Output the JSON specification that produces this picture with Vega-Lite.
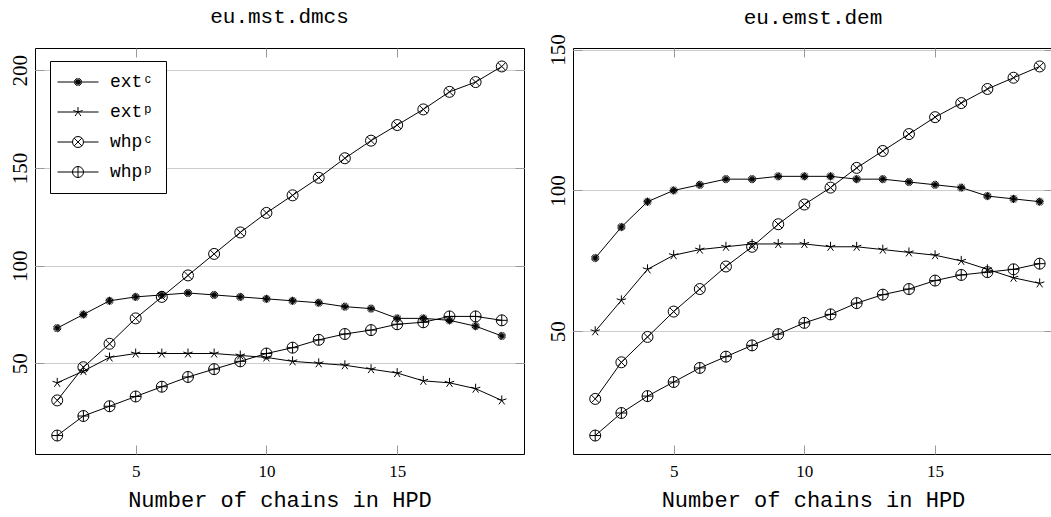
{
  "$schema": "https://vega.github.io/schema/vega-lite/v6.json",
  "padding": {"left": 8, "top": 5, "right": 0, "bottom": 0},
  "spacing": 21,
  "datasets": {
    "left": [
      {"n":2,"s":"extᶜ","v":68},{"n":3,"s":"extᶜ","v":75},{"n":4,"s":"extᶜ","v":82},{"n":5,"s":"extᶜ","v":84},{"n":6,"s":"extᶜ","v":85},{"n":7,"s":"extᶜ","v":86},{"n":8,"s":"extᶜ","v":85},{"n":9,"s":"extᶜ","v":84},{"n":10,"s":"extᶜ","v":83},{"n":11,"s":"extᶜ","v":82},{"n":12,"s":"extᶜ","v":81},{"n":13,"s":"extᶜ","v":79},{"n":14,"s":"extᶜ","v":78},{"n":15,"s":"extᶜ","v":73},{"n":16,"s":"extᶜ","v":73},{"n":17,"s":"extᶜ","v":72},{"n":18,"s":"extᶜ","v":69},{"n":19,"s":"extᶜ","v":64},
      {"n":2,"s":"extᵖ","v":40},{"n":3,"s":"extᵖ","v":46},{"n":4,"s":"extᵖ","v":53},{"n":5,"s":"extᵖ","v":55},{"n":6,"s":"extᵖ","v":55},{"n":7,"s":"extᵖ","v":55},{"n":8,"s":"extᵖ","v":55},{"n":9,"s":"extᵖ","v":54},{"n":10,"s":"extᵖ","v":53},{"n":11,"s":"extᵖ","v":51},{"n":12,"s":"extᵖ","v":50},{"n":13,"s":"extᵖ","v":49},{"n":14,"s":"extᵖ","v":47},{"n":15,"s":"extᵖ","v":45},{"n":16,"s":"extᵖ","v":41},{"n":17,"s":"extᵖ","v":40},{"n":18,"s":"extᵖ","v":37},{"n":19,"s":"extᵖ","v":31},
      {"n":2,"s":"whpᶜ","v":31},{"n":3,"s":"whpᶜ","v":48},{"n":4,"s":"whpᶜ","v":60},{"n":5,"s":"whpᶜ","v":73},{"n":6,"s":"whpᶜ","v":84},{"n":7,"s":"whpᶜ","v":95},{"n":8,"s":"whpᶜ","v":106},{"n":9,"s":"whpᶜ","v":117},{"n":10,"s":"whpᶜ","v":127},{"n":11,"s":"whpᶜ","v":136},{"n":12,"s":"whpᶜ","v":145},{"n":13,"s":"whpᶜ","v":155},{"n":14,"s":"whpᶜ","v":164},{"n":15,"s":"whpᶜ","v":172},{"n":16,"s":"whpᶜ","v":180},{"n":17,"s":"whpᶜ","v":189},{"n":18,"s":"whpᶜ","v":194},{"n":19,"s":"whpᶜ","v":202},
      {"n":2,"s":"whpᵖ","v":13},{"n":3,"s":"whpᵖ","v":23},{"n":4,"s":"whpᵖ","v":28},{"n":5,"s":"whpᵖ","v":33},{"n":6,"s":"whpᵖ","v":38},{"n":7,"s":"whpᵖ","v":43},{"n":8,"s":"whpᵖ","v":47},{"n":9,"s":"whpᵖ","v":51},{"n":10,"s":"whpᵖ","v":55},{"n":11,"s":"whpᵖ","v":58},{"n":12,"s":"whpᵖ","v":62},{"n":13,"s":"whpᵖ","v":65},{"n":14,"s":"whpᵖ","v":67},{"n":15,"s":"whpᵖ","v":70},{"n":16,"s":"whpᵖ","v":71},{"n":17,"s":"whpᵖ","v":74},{"n":18,"s":"whpᵖ","v":74},{"n":19,"s":"whpᵖ","v":72}
    ],
    "right": [
      {"n":2,"s":"extᶜ","v":76},{"n":3,"s":"extᶜ","v":87},{"n":4,"s":"extᶜ","v":96},{"n":5,"s":"extᶜ","v":100},{"n":6,"s":"extᶜ","v":102},{"n":7,"s":"extᶜ","v":104},{"n":8,"s":"extᶜ","v":104},{"n":9,"s":"extᶜ","v":105},{"n":10,"s":"extᶜ","v":105},{"n":11,"s":"extᶜ","v":105},{"n":12,"s":"extᶜ","v":104},{"n":13,"s":"extᶜ","v":104},{"n":14,"s":"extᶜ","v":103},{"n":15,"s":"extᶜ","v":102},{"n":16,"s":"extᶜ","v":101},{"n":17,"s":"extᶜ","v":98},{"n":18,"s":"extᶜ","v":97},{"n":19,"s":"extᶜ","v":96},
      {"n":2,"s":"extᵖ","v":50},{"n":3,"s":"extᵖ","v":61},{"n":4,"s":"extᵖ","v":72},{"n":5,"s":"extᵖ","v":77},{"n":6,"s":"extᵖ","v":79},{"n":7,"s":"extᵖ","v":80},{"n":8,"s":"extᵖ","v":81},{"n":9,"s":"extᵖ","v":81},{"n":10,"s":"extᵖ","v":81},{"n":11,"s":"extᵖ","v":80},{"n":12,"s":"extᵖ","v":80},{"n":13,"s":"extᵖ","v":79},{"n":14,"s":"extᵖ","v":78},{"n":15,"s":"extᵖ","v":77},{"n":16,"s":"extᵖ","v":75},{"n":17,"s":"extᵖ","v":72},{"n":18,"s":"extᵖ","v":69},{"n":19,"s":"extᵖ","v":67},
      {"n":2,"s":"whpᶜ","v":26},{"n":3,"s":"whpᶜ","v":39},{"n":4,"s":"whpᶜ","v":48},{"n":5,"s":"whpᶜ","v":57},{"n":6,"s":"whpᶜ","v":65},{"n":7,"s":"whpᶜ","v":73},{"n":8,"s":"whpᶜ","v":80},{"n":9,"s":"whpᶜ","v":88},{"n":10,"s":"whpᶜ","v":95},{"n":11,"s":"whpᶜ","v":101},{"n":12,"s":"whpᶜ","v":108},{"n":13,"s":"whpᶜ","v":114},{"n":14,"s":"whpᶜ","v":120},{"n":15,"s":"whpᶜ","v":126},{"n":16,"s":"whpᶜ","v":131},{"n":17,"s":"whpᶜ","v":136},{"n":18,"s":"whpᶜ","v":140},{"n":19,"s":"whpᶜ","v":144},
      {"n":2,"s":"whpᵖ","v":13},{"n":3,"s":"whpᵖ","v":21},{"n":4,"s":"whpᵖ","v":27},{"n":5,"s":"whpᵖ","v":32},{"n":6,"s":"whpᵖ","v":37},{"n":7,"s":"whpᵖ","v":41},{"n":8,"s":"whpᵖ","v":45},{"n":9,"s":"whpᵖ","v":49},{"n":10,"s":"whpᵖ","v":53},{"n":11,"s":"whpᵖ","v":56},{"n":12,"s":"whpᵖ","v":60},{"n":13,"s":"whpᵖ","v":63},{"n":14,"s":"whpᵖ","v":65},{"n":15,"s":"whpᵖ","v":68},{"n":16,"s":"whpᵖ","v":70},{"n":17,"s":"whpᵖ","v":71},{"n":18,"s":"whpᵖ","v":72},{"n":19,"s":"whpᵖ","v":74}
    ]
  },
  "resolve": {"scale": {"shape": "independent", "stroke": "independent"}, "legend": {"shape": "independent", "stroke": "independent"}},
  "hconcat": [
    {
      "width": 489, "height": 406,
      "data": {"name": "left"},
      "title": {"text": "eu.mst.dmcs", "offset": 20.5},
      "layer": [
        {
          "mark": {"type": "line", "color": "black", "strokeWidth": 1},
          "encoding": {
            "x": {"field": "n", "type": "quantitative", "scale": {"domain": [1.15, 19.85], "nice": false, "zero": false},
                  "axis": {"values": [5, 10, 15], "title": "Number of chains in HPD", "labelFontSize": 17}},
            "y": {"field": "v", "type": "quantitative", "scale": {"domain": [3.55, 211.45], "nice": false, "zero": false},
                  "axis": {"values": [50, 100, 150, 200], "title": null, "grid": true, "labelAngle": -90, "labelAlign": "center", "labelBaseline": "alphabetic", "labelFontSize": 21, "labelPadding": 18}},
            "detail": {"field": "s"}
          }
        },
        {
          "mark": {"type": "point", "filled": false, "strokeWidth": 1, "opacity": 1, "size": 121},
          "encoding": {
            "x": {"field": "n", "type": "quantitative", "axis": {"orient": "top", "values": [5, 10, 15], "labels": false, "title": null}},
            "y": {"field": "v", "type": "quantitative", "axis": {"orient": "right", "values": [50, 100, 150, 200], "labels": false, "title": null}},
            "shape": {"field": "s", "type": "nominal", "legend": null,
              "scale": {"domain": ["whpᵖ", "whpᶜ", "extᵖ", "extᶜ"],
                        "range": ["M-1,0A1,1,0,1,0,1,0A1,1,0,1,0,-1,0ZM-1,0L1,0M0,-1L0,1",
                                  "M-1,0A1,1,0,1,0,1,0A1,1,0,1,0,-1,0ZM-0.707,-0.707L0.707,0.707M-0.707,0.707L0.707,-0.707",
                                  "M0,0L0,-0.9M0,0L0.856,-0.278M0,0L0.529,0.728M0,0L-0.529,0.728M0,0L-0.856,-0.278",
                                  "M0,-0.75L0,0.75M-0.75,0L0.75,0M-0.53,-0.53L0.53,0.53M-0.53,0.53L0.53,-0.53M-0.29,-0.69L0.29,0.69M-0.69,-0.29L0.69,0.29M-0.29,0.69L0.29,-0.69M-0.69,0.29L0.69,-0.29"]}},
            "stroke": {"field": "s", "type": "nominal",
              "scale": {"domain": ["extᶜ", "extᵖ", "whpᶜ", "whpᵖ"], "range": ["black", "black", "black", "black"]},
              "legend": {
                "orient": "none", "legendX": 15, "legendY": 13, "title": null,
                "strokeColor": "black", "fillColor": "white", "padding": 12, "rowPadding": 12,
                "symbolSize": 121, "symbolStrokeWidth": 1, "symbolOffset": 7, "symbolFillColor": "transparent",
                "labelFont": "Liberation Mono", "labelFontSize": 18, "labelColor": "black", "labelOffset": 23,
                "symbolType": {"expr": "['M-3.73,0L3.73,0M0,-0.75L0,0.75M-0.75,0L0.75,0M-0.53,-0.53L0.53,0.53M-0.53,0.53L0.53,-0.53M-0.29,-0.69L0.29,0.69M-0.69,-0.29L0.69,0.29M-0.29,0.69L0.29,-0.69M-0.69,0.29L0.69,-0.29', 'M-3.73,0L3.73,0M0,0L0,-0.9M0,0L0.856,-0.278M0,0L0.529,0.728M0,0L-0.529,0.728M0,0L-0.856,-0.278', 'M-3.73,0L-1,0M1,0L3.73,0M-1,0A1,1,0,1,0,1,0A1,1,0,1,0,-1,0ZM-0.707,-0.707L0.707,0.707M-0.707,0.707L0.707,-0.707', 'M-3.73,0L3.73,0M-1,0A1,1,0,1,0,1,0A1,1,0,1,0,-1,0ZM0,-1L0,1'][datum.index]"}
              }
            }
          }
        }
      ],
      "resolve": {"axis": {"x": "independent", "y": "independent"}}
    },
    {
      "width": 480, "height": 406,
      "data": {"name": "right"},
      "title": {"text": "eu.emst.dem", "offset": 6},
      "layer": [
        {
          "mark": {"type": "line", "color": "black", "strokeWidth": 1},
          "encoding": {
            "x": {"field": "n", "type": "quantitative", "scale": {"domain": [1.15, 19.51], "nice": false, "zero": false},
                  "axis": {"values": [5, 10, 15], "title": "Number of chains in HPD", "labelFontSize": 17}},
            "y": {"field": "v", "type": "quantitative", "scale": {"domain": [6.45, 150.55], "nice": false, "zero": false},
                  "axis": {"values": [50, 100, 150], "title": null, "grid": true, "labelAngle": -90, "labelAlign": "center", "labelBaseline": "alphabetic", "labelFontSize": 21, "labelPadding": 18}},
            "detail": {"field": "s"}
          }
        },
        {
          "mark": {"type": "point", "filled": false, "stroke": "black", "strokeWidth": 1, "opacity": 1, "size": 121},
          "encoding": {
            "x": {"field": "n", "type": "quantitative", "axis": {"orient": "top", "values": [5, 10, 15], "labels": false, "title": null}},
            "y": {"field": "v", "type": "quantitative", "axis": {"orient": "right", "values": [50, 100, 150], "labels": false, "title": null}},
            "shape": {"field": "s", "type": "nominal",
              "scale": {"domain": ["extᶜ", "extᵖ", "whpᶜ", "whpᵖ"],
                        "range": ["M0,-0.75L0,0.75M-0.75,0L0.75,0M-0.53,-0.53L0.53,0.53M-0.53,0.53L0.53,-0.53M-0.29,-0.69L0.29,0.69M-0.69,-0.29L0.69,0.29M-0.29,0.69L0.29,-0.69M-0.69,0.29L0.69,-0.29",
                                  "M0,0L0,-0.9M0,0L0.856,-0.278M0,0L0.529,0.728M0,0L-0.529,0.728M0,0L-0.856,-0.278",
                                  "M-1,0A1,1,0,1,0,1,0A1,1,0,1,0,-1,0ZM-0.707,-0.707L0.707,0.707M-0.707,0.707L0.707,-0.707",
                                  "M-1,0A1,1,0,1,0,1,0A1,1,0,1,0,-1,0ZM-1,0L1,0M0,-1L0,1"]},
              "legend": null
            }
          }
        }
      ],
      "resolve": {"axis": {"x": "independent", "y": "independent"}}
    }
  ],
  "config": {
    "background": "white",
    "view": {"stroke": "black", "strokeWidth": 1},
    "title": {"font": "Liberation Mono", "fontSize": 21, "fontWeight": "normal", "color": "black", "anchor": "middle"},
    "axis": {
      "domain": false, "grid": false, "gridColor": "#cccccc", "gridWidth": 1,
      "ticks": true, "tickSize": -9, "tickColor": "#999999", "tickWidth": 1,
      "labelFont": "Liberation Serif", "labelColor": "black", "labelPadding": 18,
      "titleFont": "Liberation Mono", "titleFontSize": 22, "titleFontWeight": "normal", "titleColor": "black", "titlePadding": 10
    }
  }
}
